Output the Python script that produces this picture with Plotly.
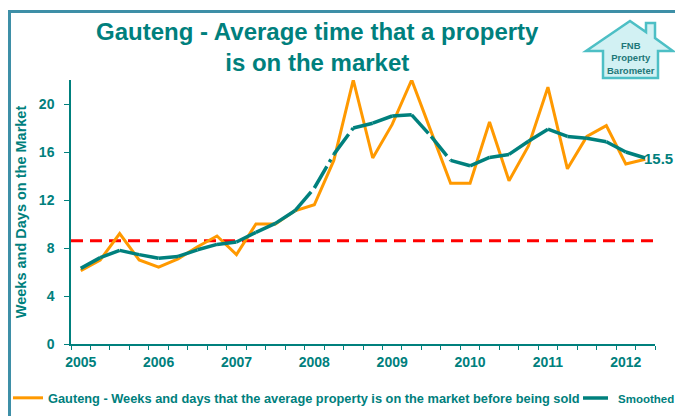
import plotly.graph_objects as go

# ---------------- data ----------------
quarters = [f"{y}Q{q}" for y in range(2005, 2013) for q in range(1, 5)][:30]
year_labels = ["2005", "2006", "2007", "2008", "2009", "2010", "2011", "2012"]
actual = [6.1, 7.0, 9.2, 7.0, 6.4, 7.1, 8.1, 9.0, 7.45, 10.0,
          10.0, 11.1, 11.6, 15.3, 22.0, 15.5, 18.3, 22.0, 17.7, 13.4,
          13.4, 18.5, 13.6, 16.5, 21.4, 14.6, 17.3, 18.2, 15.0, 15.4]
smoothed = [6.3, 7.2, 7.8, 7.45, 7.15, 7.3, 7.85, 8.3, 8.5, 9.3,
            10.05, 11.1, 13.0, 15.8, 18.0, 18.4, 19.0, 19.1, 17.3, 15.3,
            14.85, 15.55, 15.8, 16.9, 17.9, 17.3, 17.15, 16.85, 16.0, 15.5]
average = 8.6
y_ticks = [0, 4, 8, 12, 16, 20]

name_actual = "Gauteng - Weeks and days that the average property is on the market before being sold"
name_smooth = "Smoothed"

TEAL = "#00807D"
ORANGE = "#FF9900"
FONT = "Liberation Sans, Arial, sans-serif"

W, H = 675, 416
ML, MR, MT, MB = 71, 20, 80, 72
PW, PH = W - ML - MR, H - MT - MB


def px(x):
    return (x - ML) / PW


def py(y):
    return 1 - (y - MT) / PH


xs = list(range(len(quarters)))
year_pos = [quarters.index(f"{y}Q1") for y in year_labels]

# smoothed series split into per-interval subpaths so the dash restarts at each point
seg_x, seg_y = [], []
for i in range(len(smoothed) - 1):
    seg_x += [xs[i], xs[i + 1], None]
    seg_y += [smoothed[i], smoothed[i + 1], None]

fig = go.Figure()
fig.add_hline(y=average, line=dict(color="#FF0000", width=3, dash="12px,7px"), layer="below")

fig.add_trace(go.Scatter(x=xs, y=actual, mode="lines", name=name_actual,
                         line=dict(color=ORANGE, width=3), legend="legend", showlegend=True))
fig.add_trace(go.Scatter(x=seg_x, y=seg_y, mode="lines", name=name_smooth,
                         connectgaps=False,
                         line=dict(color=TEAL, width=3.5, dash="25px,5px,3px,5px"),
                         legend="legend2", showlegend=True))

fig.add_annotation(x=xs[-1], y=smoothed[-1], text=f"{smoothed[-1]:.1f}",
                   xanchor="left", yanchor="middle", xshift=-3, showarrow=False,
                   font=dict(family=FONT, size=15, color=TEAL, weight="bold"))

# frame lines
fig.add_shape(type="line", xref="paper", yref="paper", x0=px(8), x1=px(680),
              y0=py(11.5), y1=py(11.5), line=dict(color="#3E8FA7", width=3))
fig.add_shape(type="line", xref="paper", yref="paper", x0=px(9.5), x1=px(9.5),
              y0=py(10), y1=py(420), line=dict(color="#3E8FA7", width=3))

# logo house
house = [(586, 51), (630, 21), (646, 32), (646, 23), (655, 23), (655, 38), (673, 51),
         (658, 51), (658, 78), (603, 78), (603, 51)]
path = "M " + " L ".join(f"{px(a):.5f},{py(b):.5f}" for a, b in house) + " Z"
fig.add_shape(type="path", xref="paper", yref="paper", path=path,
              fillcolor="#D2F1F3", line=dict(color="#4DBFC5", width=2.5))
fig.add_annotation(xref="paper", yref="paper", x=px(630.5), y=py(58.5),
                   text="FNB<br>Property<br>Barometer", showarrow=False,
                   xanchor="center", yanchor="middle",
                   font=dict(family=FONT, size=9.5, color="#1E7778", weight="bold"))

fig.update_layout(
    width=W, height=H,
    margin=dict(l=ML, r=MR, t=MT, b=MB, autoexpand=False),
    paper_bgcolor="white", plot_bgcolor="white",
    font=dict(family=FONT, color=TEAL),
    showlegend=True,
    title=dict(text="Gauteng - Average time that a property<br>is on the market",
               x=0.47, xref="container", xanchor="center",
               y=1 - 40 / H, yref="container", yanchor="top",
               font=dict(family=FONT, size=24, color=TEAL, weight="bold")),
    xaxis=dict(range=[-0.5, len(xs) - 0.5], tickmode="array", tickvals=year_pos,
               ticktext=year_labels, ticks="", showgrid=False, zeroline=False,
               showline=True, linecolor=TEAL, linewidth=1.5,
               tickfont=dict(family=FONT, size=14, color=TEAL, weight="bold"),
               ticklabelstandoff=4,
               minor=dict(ticks="outside", tick0=-0.5, dtick=1, ticklen=4,
                          tickcolor=TEAL, tickwidth=1, showgrid=False)),
    yaxis=dict(range=[0, 22], tickmode="array", tickvals=y_ticks, ticks="outside",
               ticklen=5, tickcolor=TEAL, showgrid=False, zeroline=False,
               showline=True, linecolor=TEAL, linewidth=1.5,
               ticklabelstandoff=7,
               tickfont=dict(family=FONT, size=14, color=TEAL, weight="bold"),
               title=dict(text="Weeks and Days on the Market", standoff=9,
                          font=dict(family=FONT, size=14.5, color=TEAL, weight="bold"))),
    legend=dict(orientation="h", x=px(8), xanchor="left", y=py(398), yanchor="middle",
                font=dict(family=FONT, size=12.8, color=TEAL, weight="bold"),
                bgcolor="rgba(0,0,0,0)"),
    legend2=dict(orientation="h", x=px(578), xanchor="left", y=py(398), yanchor="middle",
                 font=dict(family=FONT, size=11.5, color=TEAL, weight="bold"),
                 bgcolor="rgba(0,0,0,0)", visible=True),
)

fig.write_html("out.html", config={"displayModeBar": False},
               post_script="document.body.style.margin='0px';")
